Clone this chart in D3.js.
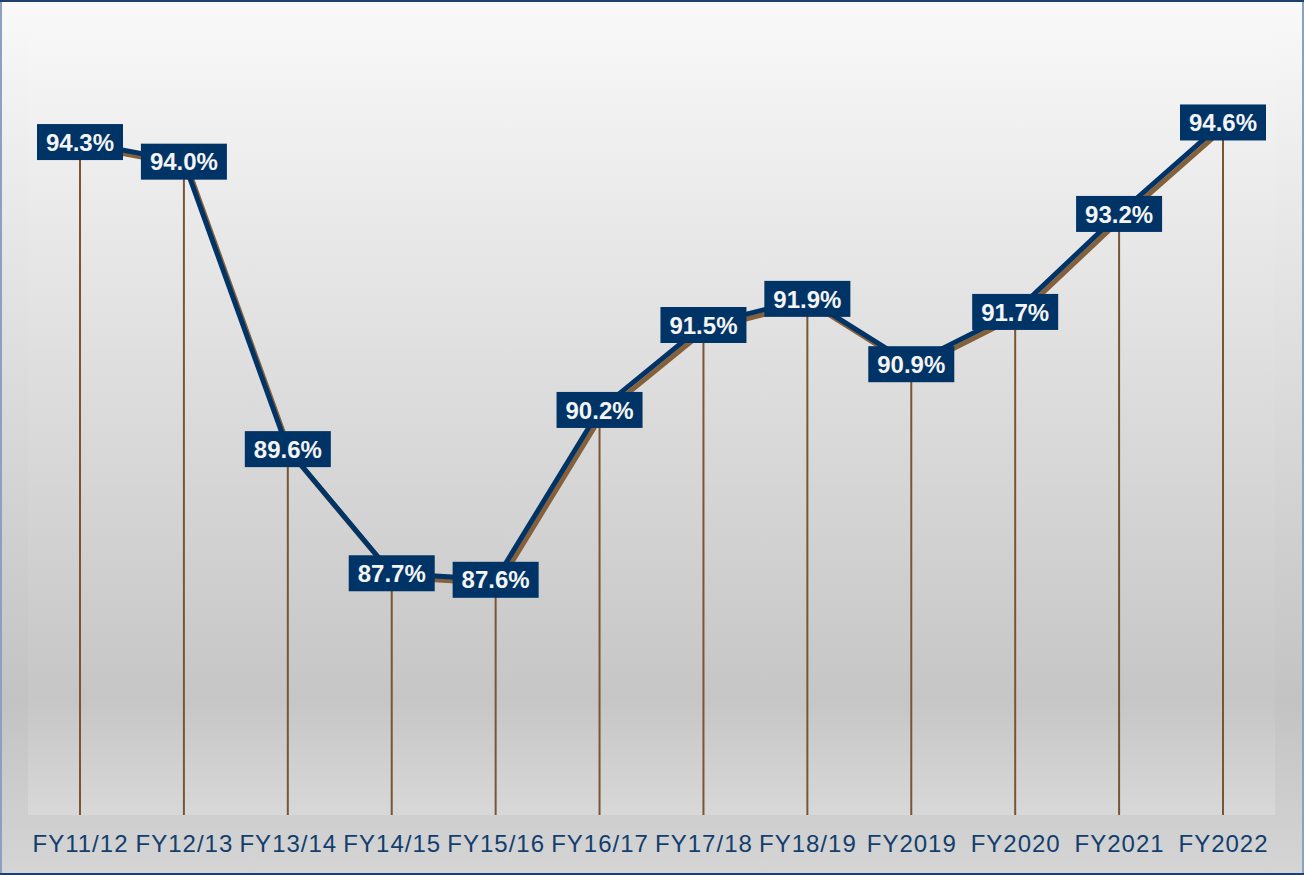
<!DOCTYPE html>
<html><head><meta charset="utf-8">
<script src="https://cdn.jsdelivr.net/npm/d3@7"></script>
<style>html,body{margin:0;padding:0;background:#fff;}svg{display:block;}</style>
</head><body>
<script>
const categories = ["FY11/12","FY12/13","FY13/14","FY14/15","FY15/16","FY16/17","FY17/18","FY18/19","FY2019","FY2020","FY2021","FY2022"];
const values = [94.3,94.0,89.6,87.7,87.6,90.2,91.5,91.9,90.9,91.7,93.2,94.6];
const yDomain = [84, 96];

const W = 1304, H = 875;
const plot = {left: 28, right: 1275, top: 31, bottom: 815};

const svg = d3.select("body").append("svg").attr("width", W).attr("height", H);
const defs = svg.append("defs");
const g1 = defs.append("linearGradient").attr("id","bgOuter").attr("x1",0).attr("y1",0).attr("x2",0).attr("y2",1);
g1.append("stop").attr("offset","0").attr("stop-color","#f9f9f9");
g1.append("stop").attr("offset","0.8").attr("stop-color","#c3c3c3");
g1.append("stop").attr("offset","1").attr("stop-color","#d5d5d5");
const g2 = defs.append("linearGradient").attr("id","bgPlot").attr("x1",0).attr("y1",0).attr("x2",0).attr("y2",1);
g2.append("stop").attr("offset","0").attr("stop-color","#f7f7f7");
g2.append("stop").attr("offset","0.85").attr("stop-color","#c6c6c6");
g2.append("stop").attr("offset","1").attr("stop-color","#d8d8d8");

svg.append("rect").attr("x",0).attr("y",0).attr("width",W).attr("height",H).attr("fill","url(#bgOuter)");
svg.append("rect").attr("x",plot.left).attr("y",plot.top).attr("width",plot.right-plot.left).attr("height",plot.bottom-plot.top).attr("fill","url(#bgPlot)");
// border
svg.append("rect").attr("x",1).attr("y",1).attr("width",W-2).attr("height",H-2).attr("fill","none").attr("stroke","#8aa2c0").attr("stroke-width",2);
svg.append("line").attr("x1",0).attr("x2",W).attr("y1",1).attr("y2",1).attr("stroke","#1f3f6e").attr("stroke-width",2);
svg.append("line").attr("x1",0).attr("x2",W).attr("y1",H-1).attr("y2",H-1).attr("stroke","#1f3f6e").attr("stroke-width",2);

const x = d3.scalePoint().domain(categories).range([80, 1223]);
const y = d3.scaleLinear().domain(yDomain).range([plot.bottom, plot.top]);

const data = categories.map((c,i)=>({c, v: values[i]}));

// drop lines
svg.append("g").selectAll("line").data(data).join("line")
  .attr("x1", d=>x(d.c)).attr("x2", d=>x(d.c))
  .attr("y1", d=>y(d.v)).attr("y2", plot.bottom)
  .attr("stroke","#7a5535").attr("stroke-width",2);

const line = d3.line().x(d=>x(d.c)).y(d=>y(d.v));
svg.append("path").datum(data).attr("d", line).attr("fill","none")
  .attr("stroke","#85613b").attr("stroke-width",5).attr("stroke-linejoin","round")
  .attr("transform","translate(3,4)");
svg.append("path").datum(data).attr("d", line).attr("fill","none")
  .attr("stroke","#003366").attr("stroke-width",5).attr("stroke-linejoin","round");

// labels
const lab = svg.append("g").selectAll("g").data(data).join("g")
  .attr("transform", d=>`translate(${x(d.c)},${y(d.v)})`);
lab.append("rect").attr("x",-43).attr("y",-18).attr("width",86).attr("height",36).attr("fill","#003366");
lab.append("text").attr("text-anchor","middle").attr("dy","0.36em")
  .attr("font-family","Liberation Sans, Arial, sans-serif").attr("font-weight","bold").attr("font-size",24)
  .attr("fill","#f4f4f4").text(d=>d.v.toFixed(1)+"%");

// x axis labels
const xAxis = d3.axisBottom(x).tickSize(0).tickPadding(0);
const ax = svg.append("g").attr("transform",`translate(0,${plot.bottom})`).call(xAxis);
ax.select(".domain").remove();
ax.selectAll("text").attr("y",37).attr("dy",0)
  .attr("font-family","Liberation Sans, Arial, sans-serif").attr("font-size",24)
  .attr("letter-spacing","1px")
  .attr("fill","#123e6e");
</script>
</body></html>
